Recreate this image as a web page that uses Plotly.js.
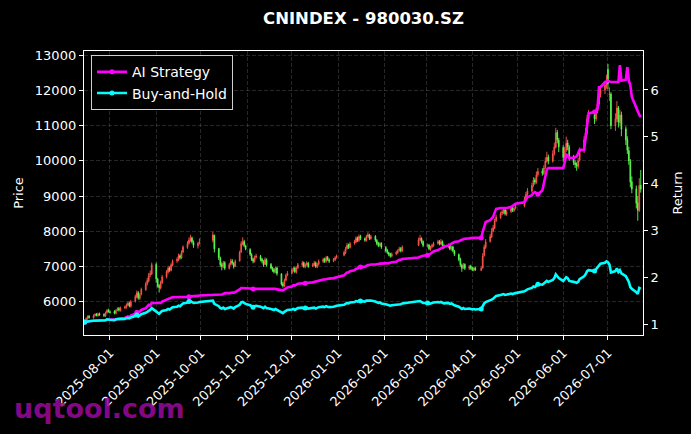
<!DOCTYPE html>
<html>
<head>
<meta charset="utf-8">
<script src="https://cdn.plot.ly/plotly-3.0.1.min.js"></script>
<style>html,body{margin:0;padding:0;background:#000;}#chart{width:691px;height:434px;}</style>
</head>
<body>
<div id="chart"></div>
<script>
// ---- trading calendar (weekdays minus exchange holidays) ----
const firstDay = '2025-07-15';
const lastDay = '2026-07-23';
const holidays = [
  '2025-10-01','2025-10-02','2025-10-03','2025-10-06','2025-10-07','2025-10-08',
  '2026-01-01','2026-01-02',
  '2026-02-16','2026-02-17','2026-02-18','2026-02-19','2026-02-20','2026-02-23',
  '2026-04-06',
  '2026-05-01','2026-05-04','2026-05-05',
  '2026-06-19'
];

// ---- daily OHLC, one row per month ----
const openP = [
  5430,5470,5510,5590,5540,5610,5650,5600,5660,5640,5590,5690,5760,
  5710,5720,5670,5760,5810,5750,5830,5840,5910,5960,5870,6010,6140,6260,6090,6210,6340,6510,6590,6760,6790,
  7060,6640,6460,6390,6540,6710,6840,6960,6890,7040,7160,7190,7310,7240,7410,7540,7660,7740,7810,7690,7590,7660,
  7750,7890,7510,7240,7060,6990,7110,6940,7060,7160,7090,7010,7160,7410,7640,7710,7590,
  7480,7340,7210,7140,7260,7290,7210,7140,7060,7190,7060,6940,6910,6840,6960,6790,6510,6440,6610,6760,
  6810,6890,6960,6840,6960,7040,7110,6990,7060,7090,7010,7040,7110,6990,7060,7140,7210,7140,7260,7190,7160,7190,7260,
  7320,7390,7510,7610,7540,7660,7690,7810,7740,7860,7790,7740,7860,7890,7790,7860,7740,7660,7590,7660,
  7540,7460,7390,7360,7290,7360,7390,7460,7510,7440,7600,7760,7790,7710,
  7590,7610,7490,7560,7590,7660,7710,7640,7710,7590,7560,7610,7490,7560,7440,7340,7210,7040,6960,7060,6940,7010,
  6960,6890,6960,6890,6960,7310,7540,7710,7840,8010,8090,8310,8390,8510,8540,8610,8490,8560,8660,8590,8660,
  8720,8890,9060,9140,9310,9460,9390,9610,9710,9640,9810,9990,10110,9990,10210,10390,10810,10590,
  10380,10090,10310,10510,10390,10110,9940,9910,9840,10010,10290,10610,10790,11210,11310,11190,11410,11610,11890,12010,12140,
  12600,11880,11900,10990,11190,11510,11090,11310,10910,10610,10290,9990,9410,9210,8810,8590,9310
];
const highP = [
  5500,5550,5610,5620,5640,5670,5680,5690,5690,5670,5720,5790,5800,
  5750,5760,5790,5840,5850,5860,5890,5950,6000,6000,6050,6200,6320,6300,6240,6400,6560,6680,6820,6890,7110,
  7110,6680,6500,6600,6760,6900,7020,7000,7090,7200,7260,7370,7350,7460,7600,7720,7830,7900,7850,7740,7700,7800,
  7990,7900,7520,7280,7120,7160,7150,7100,7220,7210,7120,7200,7450,7720,7830,7760,7620,
  7520,7380,7250,7310,7360,7330,7240,7180,7260,7230,7100,6990,6960,7000,6990,6810,6560,6660,6800,6870,
  6950,7000,6990,7000,7100,7160,7140,7090,7150,7130,7100,7160,7140,7100,7200,7250,7250,7300,7300,7230,7240,7290,7340,
  7450,7560,7670,7650,7700,7760,7860,7850,7910,7900,7830,7900,7970,7930,7900,7890,7780,7700,7690,7690,
  7580,7500,7420,7390,7400,7450,7490,7560,7550,7600,7820,7900,7830,7740,
  7650,7640,7590,7650,7700,7760,7750,7780,7740,7630,7650,7640,7590,7590,7470,7370,7250,7080,7100,7090,7040,7050,
  7000,6990,6990,7000,7380,7620,7780,7920,8090,8180,8360,8470,8560,8620,8680,8650,8600,8700,8720,8700,8760,
  8980,9120,9230,9380,9540,9520,9700,9800,9790,9880,10100,10260,10180,10300,10520,10940,10880,10650,
  10450,10400,10690,10600,10450,10170,10020,9960,10080,10380,10700,10940,11300,11450,11420,11510,11750,12020,12150,12250,12450,
  12756,12090,11950,11350,11700,11560,11450,11400,10980,10700,10400,10050,9560,9300,9000,9510,9740
];
const lowP = [
  5420,5450,5490,5520,5520,5580,5580,5580,5600,5570,5570,5660,5690,
  5660,5640,5640,5730,5720,5720,5790,5800,5870,5840,5830,5980,6100,6060,6050,6180,6310,6460,6550,6700,6760,
  6540,6400,6260,6350,6500,6660,6800,6850,6860,7000,7100,7150,7200,7210,7380,7500,7620,7700,7650,7530,7510,7620,
  7690,7400,7180,6990,6890,6950,6900,6920,7030,7050,6940,6990,7140,7380,7600,7550,7460,
  7300,7160,7090,7110,7220,7150,7090,6990,7040,7000,6920,6850,6800,6810,6740,6460,6400,6420,6580,6720,
  6780,6850,6810,6800,6930,7000,6960,6950,7020,6960,6980,7010,6960,6950,7030,7100,7100,7110,7160,7100,7120,7160,7220,
  7290,7350,7480,7500,7510,7620,7660,7700,7700,7750,7700,7710,7820,7750,7760,7700,7600,7550,7560,7500,
  7400,7350,7290,7250,7260,7320,7360,7420,7400,7410,7580,7720,7650,7550,
  7540,7460,7450,7520,7560,7620,7600,7610,7560,7500,7520,7460,7450,7400,7300,7150,6990,6850,6930,6900,6900,6910,
  6870,6860,6880,6870,6940,7280,7500,7680,7810,7970,8060,8260,8350,8460,8490,8450,8440,8520,8550,8550,8620,
  8680,8850,9000,9100,9260,9330,9350,9550,9580,9600,9770,9950,9900,9950,10150,10350,10500,10250,
  9980,10020,10250,10300,10000,9880,9800,9720,9780,9980,10220,10550,10750,11100,11050,11120,11350,11550,11800,11900,12050,
  12030,11700,10900,10850,11100,10950,11000,10700,10450,10200,9890,9250,9080,8650,8300,8550,9100
];
const closeP = [
  5460,5520,5580,5550,5600,5640,5610,5650,5630,5600,5680,5750,5720,
  5700,5680,5750,5800,5760,5820,5850,5900,5950,5880,6000,6150,6250,6100,6200,6350,6500,6600,6750,6800,7050,
  6650,6450,6400,6550,6700,6850,6950,6900,7050,7150,7200,7300,7250,7400,7550,7650,7750,7800,7700,7600,7650,7700,
  7900,7500,7250,7050,7000,7100,6950,7050,7150,7100,7000,7150,7400,7650,7700,7600,7500,
  7350,7200,7150,7250,7300,7200,7150,7050,7200,7050,6950,6900,6850,6950,6800,6500,6450,6600,6750,6800,
  6900,6950,6850,6950,7050,7100,7000,7050,7100,7000,7050,7100,7000,7050,7150,7200,7150,7250,7200,7150,7200,7250,7300,
  7400,7500,7600,7550,7650,7700,7800,7750,7850,7800,7750,7850,7900,7800,7850,7750,7650,7600,7650,7550,
  7450,7400,7350,7300,7350,7400,7450,7500,7450,7550,7750,7800,7700,7600,
  7600,7500,7550,7600,7650,7700,7650,7700,7600,7550,7600,7500,7550,7450,7350,7200,7050,6950,7050,6950,7000,6950,
  6900,6950,6900,6950,7300,7550,7700,7850,8000,8100,8300,8400,8500,8550,8600,8500,8550,8650,8600,8650,8700,
  8900,9050,9150,9300,9450,9400,9600,9700,9650,9800,10000,10100,10000,10200,10400,10800,10600,10400,
  10100,10300,10500,10400,10100,9950,9900,9850,10000,10300,10600,10800,11200,11300,11200,11400,11600,11900,12000,12150,12300,
  12200,11900,11000,11200,11500,11100,11300,10900,10600,10300,10000,9400,9200,8800,8600,9300,9200
];

// ---- cumulative return series (right axis) ----
const aiStrategy = [
  1.04,1.05,1.06,1.06,1.07,1.07,1.07,1.08,1.07,1.07,1.08,1.09,1.09,
  1.09,1.09,1.10,1.11,1.11,1.12,1.13,1.15,1.16,1.15,1.18,1.22,1.25,1.24,1.27,1.30,1.34,1.37,1.41,1.40,1.45,
  1.45,1.45,1.45,1.45,1.48,1.52,1.55,1.55,1.56,1.57,1.57,1.57,1.57,1.58,1.58,1.58,1.58,1.59,1.59,1.59,1.60,1.61,
  1.62,1.62,1.62,1.62,1.63,1.64,1.66,1.66,1.67,1.67,1.67,1.68,1.74,1.77,1.77,1.77,1.76,
  1.76,1.75,1.75,1.75,1.76,1.76,1.75,1.75,1.75,1.75,1.75,1.75,1.75,1.75,1.74,1.73,1.72,1.74,1.76,1.78,
  1.80,1.83,1.82,1.84,1.86,1.87,1.86,1.87,1.88,1.88,1.89,1.90,1.90,1.91,1.93,1.95,1.95,1.96,1.97,1.97,1.98,1.99,2.00,
  2.04,2.07,2.10,2.10,2.13,2.15,2.18,2.18,2.22,2.22,2.22,2.24,2.26,2.26,2.27,2.27,2.27,2.28,2.29,2.29,
  2.30,2.30,2.30,2.31,2.32,2.33,2.35,2.37,2.37,2.39,2.42,2.44,2.45,2.46,
  2.47,2.48,2.50,2.52,2.55,2.58,2.60,2.62,2.63,2.65,2.68,2.70,2.72,2.74,2.75,2.77,2.79,2.80,2.81,2.82,2.83,2.84,
  2.84,2.84,2.84,2.84,2.97,3.10,3.18,3.22,3.26,3.29,3.38,3.46,3.48,3.48,3.48,3.48,3.48,3.50,3.52,3.55,3.57,
  3.60,3.65,3.71,3.75,3.80,3.82,3.80,3.77,3.85,3.98,4.15,4.30,4.33,4.33,4.33,4.33,4.33,4.33,
  4.33,4.45,4.62,4.60,4.55,4.55,4.56,4.58,4.65,4.72,4.72,5.00,5.15,5.50,5.53,5.53,5.60,6.06,6.06,6.17,6.17,
  6.20,6.18,6.17,6.17,6.17,6.17,6.53,6.20,6.22,6.49,6.20,6.10,5.85,5.60,5.53,5.47,5.42
];
const buyHold = [
  1.04,1.05,1.06,1.06,1.07,1.07,1.07,1.08,1.07,1.07,1.08,1.10,1.09,
  1.09,1.08,1.10,1.10,1.10,1.11,1.11,1.12,1.13,1.12,1.14,1.17,1.19,1.16,1.18,1.21,1.24,1.26,1.29,1.30,1.34,
  1.27,1.23,1.22,1.25,1.28,1.30,1.32,1.31,1.34,1.36,1.37,1.39,1.38,1.41,1.44,1.46,1.48,1.49,1.47,1.45,1.46,1.47,
  1.50,1.43,1.38,1.34,1.33,1.35,1.32,1.34,1.36,1.35,1.33,1.36,1.41,1.46,1.47,1.45,1.43,
  1.40,1.37,1.36,1.38,1.39,1.37,1.36,1.34,1.37,1.34,1.32,1.31,1.30,1.32,1.30,1.24,1.23,1.26,1.29,1.30,
  1.31,1.32,1.30,1.32,1.34,1.35,1.33,1.34,1.35,1.33,1.34,1.35,1.33,1.34,1.36,1.37,1.36,1.38,1.37,1.36,1.37,1.38,1.39,
  1.41,1.43,1.45,1.44,1.46,1.47,1.49,1.48,1.50,1.49,1.48,1.50,1.50,1.49,1.50,1.48,1.46,1.45,1.46,1.44,
  1.42,1.41,1.40,1.39,1.40,1.41,1.42,1.43,1.42,1.44,1.48,1.49,1.47,1.45,
  1.45,1.43,1.44,1.45,1.46,1.47,1.46,1.47,1.45,1.44,1.45,1.43,1.44,1.42,1.40,1.37,1.34,1.32,1.34,1.32,1.33,1.32,
  1.31,1.32,1.31,1.32,1.39,1.44,1.47,1.50,1.52,1.54,1.58,1.60,1.62,1.63,1.64,1.62,1.63,1.65,1.64,1.65,1.66,
  1.70,1.72,1.74,1.77,1.80,1.79,1.83,1.85,1.84,1.87,1.90,1.92,1.90,1.94,1.98,2.06,2.02,1.98,
  1.92,1.96,2.00,1.98,1.92,1.90,1.89,1.88,1.90,1.96,2.02,2.06,2.13,2.15,2.13,2.17,2.21,2.27,2.29,2.31,2.34,
  2.32,2.27,2.10,2.13,2.19,2.11,2.15,2.08,2.02,1.96,1.90,1.79,1.75,1.68,1.64,1.77,1.75
];

// build trading dates
function tradingDays(start, end, hol) {
  const out = [];
  const hs = new Set(hol);
  const d = new Date(start + 'T00:00:00Z');
  const e = new Date(end + 'T00:00:00Z');
  while (d <= e) {
    const wd = d.getUTCDay();
    const s = d.toISOString().slice(0, 10);
    if (wd !== 0 && wd !== 6 && !hs.has(s)) out.push(s);
    d.setUTCDate(d.getUTCDate() + 1);
  }
  return out;
}
const dates = tradingDays(firstDay, lastDay, holidays);

const FONT = 'DejaVu Sans';
const gridStyle = {gridcolor: 'rgba(140,140,140,0.45)', gridwidth: 0.6, griddash: '4px,2px'};

const traces = [
  {
    type: 'candlestick', x: dates, open: openP, high: highP, low: lowP, close: closeP,
    xaxis: 'x', yaxis: 'y', showlegend: false, hoverinfo: 'skip',
    increasing: {line: {color: 'rgba(255,85,75,0.9)', width: 1}, fillcolor: 'rgba(255,85,75,0.9)'},
    decreasing: {line: {color: 'rgba(90,255,80,0.9)', width: 1}, fillcolor: 'rgba(90,255,80,0.9)'},
    whiskerwidth: 0
  },
  {
    type: 'scatter', mode: 'lines+markers', name: 'AI Strategy', x: dates, y: aiStrategy,
    xaxis: 'x', yaxis: 'y2',
    line: {color: '#ff00ff', width: 2.6},
    marker: {color: '#ff00ff', size: 5, symbol: 'circle', maxdisplayed: 10}
  },
  {
    type: 'scatter', mode: 'lines+markers', name: 'Buy-and-Hold', x: dates, y: buyHold,
    xaxis: 'x', yaxis: 'y3',
    line: {color: '#00ffff', width: 2.6},
    marker: {color: '#00ffff', size: 5, symbol: 'circle', maxdisplayed: 10}
  }
];

const returnRange = [0.765, 6.833];
const layout = {
  width: 691, height: 434,
  paper_bgcolor: '#000', plot_bgcolor: '#000',
  margin: {l: 84, r: 48, t: 51, b: 99, pad: 0},
  font: {family: FONT, color: '#fff', size: 13},
  title: {
    text: '<b>CNINDEX - 980030.SZ</b>', font: {family: FONT, size: 16.5, color: '#fff'},
    xref: 'paper', x: 0.5, xanchor: 'center', yref: 'container', y: 0.958, yanchor: 'middle'
  },
  showlegend: true,
  legend: {
    x: 0.0125, y: 0.985, xanchor: 'left', yanchor: 'top',
    bgcolor: '#000', bordercolor: '#cfcfcf', borderwidth: 1,
    font: {family: FONT, size: 14, color: '#fff'}, tracegroupgap: 0
  },
  xaxis: Object.assign({
    type: 'date', range: ['2025-07-14 14:00', '2026-07-24 12:00'],
    tick0: '2025-08-01', dtick: 'M1', tickformat: '%Y-%m-%d', tickangle: -45,
    ticks: 'outside', ticklen: 4, tickwidth: 1, tickcolor: '#fff',
    showline: true, linecolor: '#fff', linewidth: 1.2, mirror: true,
    showgrid: true, zeroline: false, rangeslider: {visible: false},
    tickfont: {family: FONT, size: 13, color: '#fff'}
  }, gridStyle),
  yaxis: Object.assign({
    range: [5054, 13122], tick0: 0, dtick: 1000, tickformat: 'd',
    ticks: 'outside', ticklen: 4, tickwidth: 1, tickcolor: '#fff',
    showline: true, linecolor: '#fff', linewidth: 1.2, mirror: true,
    showgrid: true, zeroline: false,
    tickfont: {family: FONT, size: 13, color: '#fff'},
    title: {text: 'Price', font: {family: FONT, size: 13, color: '#fff'}, standoff: 8}
  }, gridStyle),
  yaxis2: {
    overlaying: 'y', side: 'right', range: returnRange, tick0: 0, dtick: 1,
    ticks: 'outside', ticklen: 4, tickwidth: 1, tickcolor: '#fff',
    showline: false, showgrid: false, zeroline: false,
    tickfont: {family: FONT, size: 13, color: '#fff'},
    title: {text: 'Return', font: {family: FONT, size: 13, color: '#fff'}, standoff: 15}
  },
  yaxis3: {
    overlaying: 'y', side: 'right', range: returnRange, visible: false
  },
  annotations: [{
    text: '<b>uqtool.com</b>', xref: 'paper', yref: 'paper',
    x: -0.129, y: -0.26, xanchor: 'left', yanchor: 'middle', showarrow: false,
    font: {family: FONT, size: 27, color: 'rgba(150,10,150,0.88)'}
  }]
};

Plotly.newPlot('chart', traces, layout, {staticPlot: true, displayModeBar: false});
</script>
</body>
</html>
